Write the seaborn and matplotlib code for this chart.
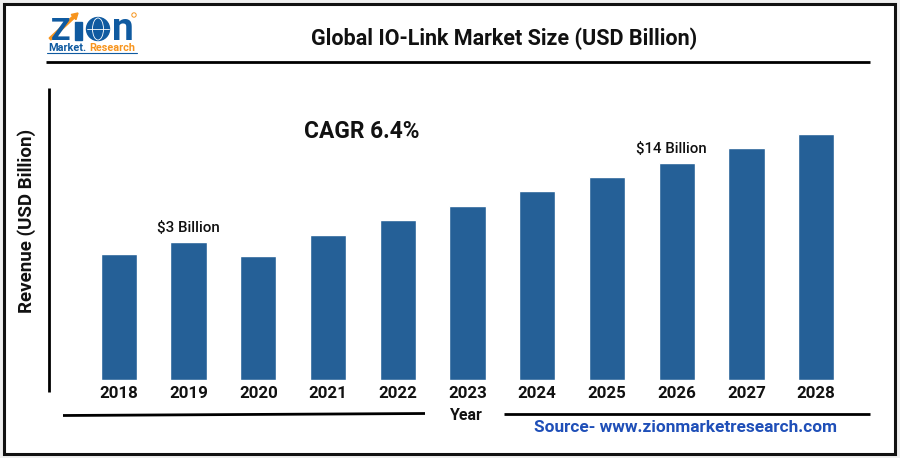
import matplotlib
matplotlib.use("Agg")
import matplotlib.pyplot as plt
from matplotlib.lines import Line2D
from matplotlib.patches import Circle, Ellipse, FancyArrow, Rectangle
import pandas as pd
import seaborn as sns

years = ["2018", "2019", "2020", "2021", "2022", "2023", "2024", "2025", "2026", "2027", "2028"]
# bar heights, scaled so 2019 is 3 (there is no value axis)
revenue = [2.76, 3.02, 2.71, 3.17, 3.50, 3.81, 4.14, 4.44, 4.75, 5.08, 5.38]

W, H = 900, 458
BLUE = "#256097"
LOGO_BLUE = "#0f5aa0"
LOGO_ORANGE = "#f7941d"
FONT = "Roboto"

sns.set_style("white")
plt.rcParams["font.family"] = [FONT, "DejaVu Sans"]

fig = plt.figure(figsize=(W / 100, H / 100), dpi=100, facecolor="#efefef")

# full figure overlay in pixel coordinates, for the frame, rules and logo
bg = fig.add_axes([0, 0, 1, 1], zorder=0)
bg.set_xlim(0, W)
bg.set_ylim(H, 0)
bg.axis("off")
bg.add_patch(Rectangle((4, 4), 891, 450, facecolor="white", edgecolor="#111111", linewidth=2.2))


def rule(x0, y0, x1, y1, lw=2.0):
    bg.add_line(Line2D([x0, x1], [y0, y1], color="black", linewidth=lw, solid_capstyle="butt"))


rule(46, 62, 870, 62)
rule(49, 88, 49, 392)
rule(63, 415.5, 425, 413.5)
rule(504, 414, 870, 414)

# logo
bg.text(61, 40, "Z", color=LOGO_BLUE, fontsize=23, fontweight="bold", ha="center", va="baseline")
bg.add_patch(Rectangle((75, 22), 7, 18, color=LOGO_BLUE))
bg.add_patch(Circle((98, 29), 11.5, facecolor=LOGO_BLUE, edgecolor=LOGO_BLUE))
bg.add_patch(Ellipse((98, 29), 11, 22, facecolor="none", edgecolor="white", linewidth=0.6))
bg.add_line(Line2D([87, 109], [29, 29], color="white", linewidth=0.6))
bg.text(123, 40, "n", color=LOGO_BLUE, fontsize=28, fontweight="bold", ha="center", va="baseline")
bg.add_patch(Circle((134, 15), 2.2, facecolor="none", edgecolor=LOGO_ORANGE, linewidth=0.7))
bg.add_patch(FancyArrow(50, 39, 28, -26, width=2.5, head_width=7, head_length=6,
                        length_includes_head=True, color=LOGO_ORANGE))
bg.text(48, 51, "Market.", color=LOGO_BLUE, fontsize=7.8, fontweight="bold", va="baseline")
bg.text(89, 51, "Research", color=LOGO_ORANGE, fontsize=7.8, fontweight="bold", va="baseline")
bg.add_line(Line2D([47, 137], [52.5, 52.5], color=LOGO_BLUE, linewidth=0.8))

bg.text(504, 39, "Global IO-Link Market Size (USD Billion)", fontsize=15.5, fontweight="bold",
        ha="center", va="center", color="#111111")
bg.text(27, 221, "Revenue (USD Billion)", fontsize=13.5, fontweight="bold", rotation=90,
        ha="center", va="center", color="#111111")
bg.text(466, 416, "Year", fontsize=11.5, fontweight="bold", ha="center", va="center", color="#111111")
bg.text(685, 428, "Source- www.zionmarketresearch.com", fontsize=12.4, fontweight="bold",
        ha="center", va="center", color="#1f4fb8")
bg.text(362, 131, "CAGR 6.4%", fontsize=16.4, fontweight="bold", ha="center", va="center", color="#111111")

# bars
ax = fig.add_axes([84 / W, (H - 380) / H, 767 / W, 260 / H], zorder=1)
ax.patch.set_alpha(0)
data = pd.DataFrame({"Year": years, "Revenue": revenue})
sns.barplot(data=data, x="Year", y="Revenue", color=BLUE, saturation=1, width=0.52, ax=ax)
ax.set_xlim(-0.5, 10.5)
ax.set_ylim(0, 260 * 3 / 137)
ax.set_xlabel("")
ax.set_ylabel("")
ax.set_yticks([])
ax.tick_params(axis="x", length=0, pad=4, labelsize=12.2, labelcolor="#111111")
for label in ax.get_xticklabels():
    label.set_fontweight("bold")
sns.despine(ax=ax, left=True, bottom=True)

ax.annotate("$3 Billion", (1, revenue[1]), xytext=(0, 5), textcoords="offset points",
            ha="center", va="bottom", fontsize=10.9, fontweight="medium", color="#111111")
ax.annotate("$14 Billion", (8, revenue[8]), xytext=(-4, 5), textcoords="offset points",
            ha="center", va="bottom", fontsize=10.8, fontweight="medium", color="#111111")

fig.savefig("out.png", dpi=100, facecolor=fig.get_facecolor())
